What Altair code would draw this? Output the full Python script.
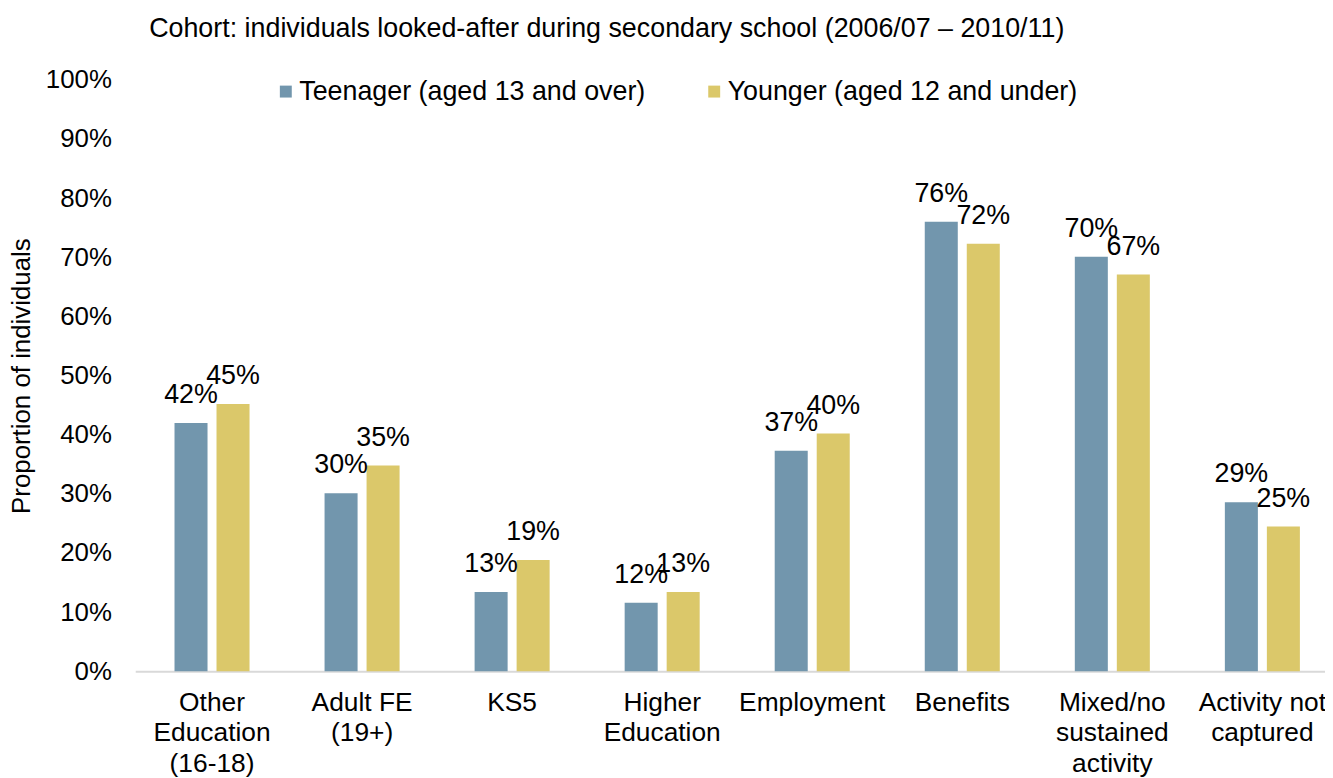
import altair as alt
import pandas as pd

categories = ["Other|Education|(16-18)", "Adult FE|(19+)", "KS5", "Higher|Education",
              "Employment", "Benefits", "Mixed/no|sustained|activity", "Activity not|captured"]
series = ["Teenager (aged 13 and over)", "Younger (aged 12 and under)"]
teen = [0.42, 0.301, 0.134, 0.116, 0.373, 0.76, 0.701, 0.286]
younger = [0.452, 0.348, 0.188, 0.134, 0.402, 0.723, 0.671, 0.245]
colors = ["#7296AD", "#DBC86A"]

rows = []
for c, t, y in zip(categories, teen, younger):
    rows.append({"cat": c, "series": series[0], "value": t})
    rows.append({"cat": c, "series": series[1], "value": y})
df = pd.DataFrame(rows)

FONT = "Liberation Sans"
FS = 26

x = alt.X("cat:N", sort=categories,
          scale=alt.Scale(paddingInner=0.5, paddingOuter=0.2146, align=0.61, round=False),
          axis=alt.Axis(title=None, labelAngle=0, labelFontSize=FS + 0.5, labelFont=FONT,
                        labelColor="black", labelLineHeight=31, labelPadding=31,
                        labelExpr="split(datum.label, '|')", ticks=False, labelLimit=0,
                        domainColor="#d9d9d9", domainWidth=2, labelBaseline="middle"))
xo = alt.XOffset("series:N", sort=series, scale=alt.Scale(paddingInner=0.214, round=False))
y = alt.Y("value:Q", scale=alt.Scale(domain=[0, 1]),
          axis=alt.Axis(title="Proportion of individuals", format=".0%",
                        values=[i / 10 for i in range(11)], grid=False, ticks=False,
                        domain=False, labelFontSize=FS, labelFont=FONT, labelColor="black",
                        labelPadding=24, titleFontSize=FS, titleFont=FONT,
                        titleFontWeight="normal", titleColor="black", titlePadding=11))

bars = alt.Chart(df).mark_bar().encode(
    x=x, xOffset=xo, y=y,
    color=alt.Color("series:N", sort=series,
                    scale=alt.Scale(domain=series, range=colors),
                    legend=alt.Legend(title=None, orient="none", direction="horizontal",
                                      legendX=138, legendY=-2, symbolType="square",
                                      symbolSize=144, labelFontSize=FS + 1, labelFont=FONT,
                                      labelColor="black", columnPadding=55, symbolStrokeWidth=0,
                                      labelOffset=0, labelLimit=0))
)
labels = alt.Chart(df).mark_text(baseline="bottom", dy=-14, fontSize=FS + 1, font=FONT,
                                 color="black").encode(
    x=x, xOffset=xo, y=y, text=alt.Text("value:Q", format=".0%")
)

chart = (bars + labels).properties(
    width=1197, height=595,
    title=alt.TitleParams("Cohort: individuals looked-after during secondary school (2006/07 \u2013 2010/11)",
                          fontSize=FS + 1, font=FONT, fontWeight="normal", color="black",
                          anchor="start", frame="group", dx=14, offset=24),
    autosize=alt.AutoSizeParams(type="none"),
    padding={"left": 128, "top": 70, "right": 0, "bottom": 105},
).configure_view(stroke=None)

chart.save("out.html", embed_options={"renderer": "svg", "actions": False})
